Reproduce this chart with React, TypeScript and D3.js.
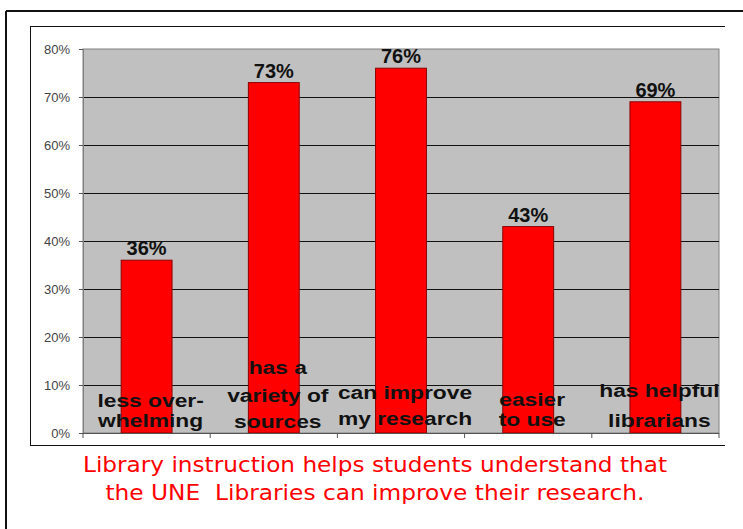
import * as d3 from 'd3'

const categories = ['less', 'variety', 'improve', 'easier', 'librarians']
const values = [0.36, 0.73, 0.76, 0.43, 0.69]
const valueLabels = ['36%', '73%', '76%', '43%', '69%']
const categoryLines = [
  ['less over-', 'whelming'],
  ['has a', 'variety of', 'sources'],
  ['can improve', 'my research'],
  ['easier', 'to use'],
  ['has helpful', 'librarians'],
]
const yTicks = [0, 0.1, 0.2, 0.3, 0.4, 0.5, 0.6, 0.7, 0.8]
const caption = [
  'Library instruction helps students understand that',
  'the UNE  Libraries can improve their research.',
]

// distance of each label line's baseline above the x axis
const lineOffsets = [
  [26, 6],
  [59, 31, 5],
  [34, 8],
  [27, 7],
  [36, 6],
]

const W = 743
const H = 529
const plot = { left: 83, right: 719, top: 49, bottom: 433 }

export default function App() {
  const x = d3.scaleBand<string>()
    .domain(categories)
    .range([plot.left, plot.right])
    .paddingInner(0.6)
    .paddingOuter(0.3)

  const y = d3.scaleLinear()
    .domain([0, 0.8])
    .range([plot.bottom, plot.top])

  const step = x.step()
  const boundaries = d3.range(categories.length + 1).map(i => plot.left + i * step)

  return (
    <svg
      width={W}
      height={H}
      style={{ position: 'absolute', left: 0, top: 0, background: '#fff' }}
    >
      {/* outer frame */}
      <line x1={6} x2={W} y1={11} y2={11} stroke="#111" strokeWidth={2} />
      <line x1={6} x2={6} y1={11} y2={H} stroke="#111" strokeWidth={2} />

      {/* chart frame */}
      <line x1={30} x2={725} y1={26.5} y2={26.5} stroke="#111" strokeWidth={1} />
      <line x1={30.5} x2={30.5} y1={26} y2={445} stroke="#111" strokeWidth={1} />
      <line x1={30} x2={725} y1={445.5} y2={445.5} stroke="#111" strokeWidth={1} />

      {/* plot area */}
      <rect
        x={plot.left}
        y={plot.top}
        width={plot.right - plot.left}
        height={plot.bottom - plot.top}
        fill="#c0c0c0"
        stroke="#808080"
        strokeWidth={1}
      />

      {yTicks.filter(t => t > 0 && t < 0.8).map(t => (
        <line
          key={t}
          x1={plot.left}
          x2={plot.right}
          y1={Math.round(y(t)) + 0.5}
          y2={Math.round(y(t)) + 0.5}
          stroke="#111"
          strokeWidth={1}
        />
      ))}

      {/* y axis */}
      <line x1={plot.left + 0.5} x2={plot.left + 0.5} y1={plot.top} y2={plot.bottom} stroke="#808080" />
      {yTicks.map(t => (
        <g key={t} transform={`translate(0, ${Math.round(y(t)) + 0.5})`}>
          <line x1={plot.left - 4} x2={plot.left} stroke="#555" />
          <text
            x={plot.left - 13}
            dy="0.35em"
            textAnchor="end"
            fontFamily="Liberation Sans, Arial, sans-serif"
            fontSize={13}
            fill="#444"
          >
            {d3.format('.0%')(t)}
          </text>
        </g>
      ))}

      {/* bars */}
      {categories.map((c, i) => (
        <rect
          key={c}
          x={x(c)}
          y={y(values[i])}
          width={x.bandwidth()}
          height={y(0) - y(values[i])}
          fill="#ff0000"
          stroke="#8b0000"
          strokeWidth={1}
        />
      ))}

      {/* x axis */}
      <line x1={plot.left} x2={plot.right} y1={plot.bottom + 0.5} y2={plot.bottom + 0.5} stroke="#555" />
      {boundaries.map(b => (
        <line key={b} x1={b} x2={b} y1={plot.bottom} y2={plot.bottom + 5} stroke="#555" />
      ))}

      {/* value labels */}
      {categories.map((c, i) => (
        <text
          key={c}
          x={(x(c) ?? 0) + x.bandwidth() / 2}
          y={y(values[i]) - 5}
          textAnchor="middle"
          fontFamily="Liberation Sans, Arial, sans-serif"
          fontWeight="bold"
          fontSize={20}
          fill="#111"
        >
          {valueLabels[i]}
        </text>
      ))}

      {/* category labels inside the plot */}
      {categories.map((c, i) => {
        const cx = (x(c) ?? 0) + x.bandwidth() / 2 + 4
        return categoryLines[i].map((line, j) => (
          <text
            key={c + j}
            transform={`translate(${cx}, ${y(0) - lineOffsets[i][j]}) scale(1.2, 1)`}
            textAnchor="middle"
            fontFamily="Liberation Sans, Arial, sans-serif"
            fontWeight="bold"
            fontSize={19}
            fill="#111"
          >
            {line}
          </text>
        ))
      })}

      {/* caption */}
      {caption.map((line, i) => (
        <text
          key={i}
          x={375}
          y={472 + i * 28}
          textAnchor="middle"
          fontFamily="DejaVu Sans, Verdana, sans-serif"
          fontSize={21}
          fill="#ff0000"
          textLength={i === 0 ? 584 : 539}
          lengthAdjust="spacingAndGlyphs"
          style={{ whiteSpace: 'pre' }}
        >
          {line}
        </text>
      ))}
    </svg>
  )
}
